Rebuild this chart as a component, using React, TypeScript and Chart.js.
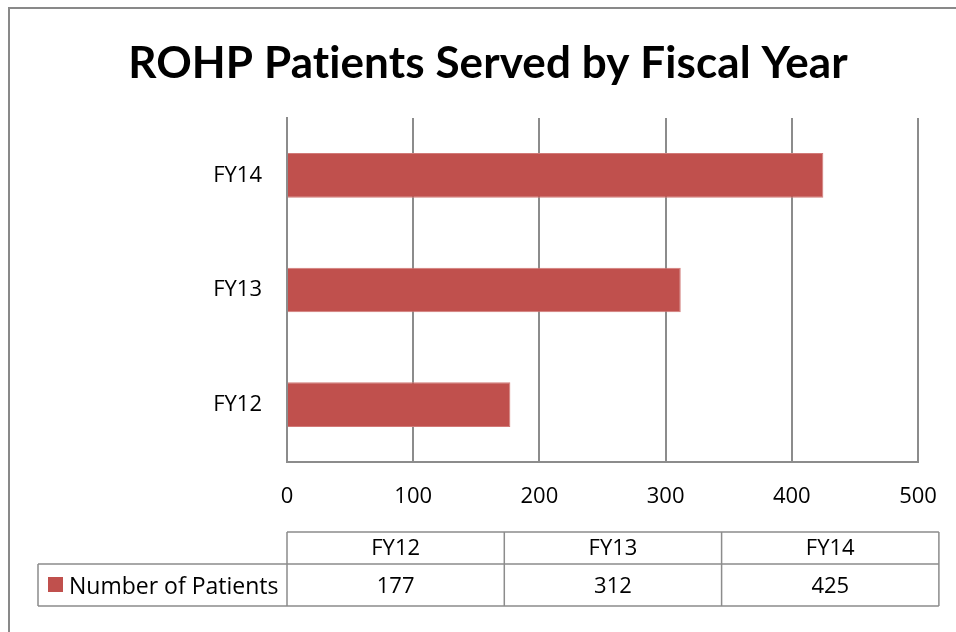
import React, { useEffect, useRef } from 'react';
import { Chart, registerables } from 'chart.js';

Chart.register(...registerables);

const TITLE = 'ROHP Patients Served by Fiscal Year';
const CATEGORIES = ['FY12', 'FY13', 'FY14'];
const SERIES_NAME = 'Number of Patients';
const PATIENTS = [177, 312, 425];
const X_MIN = 0;
const X_MAX = 500;
const X_STEP = 100;

const TITLE_FONT = 'Lato, "Open Sans", sans-serif';
const FONT = '"Open Sans", Lato, sans-serif';
const BAR = '#C0504D';
const GRID = '#8C8C8C';
const W = 956;
const H = 632;

const framePlugin = {
  id: 'frameTitleTable',
  beforeDraw(chart: any) {
    const ctx = chart.ctx;
    ctx.save();
    ctx.fillStyle = '#ffffff';
    ctx.fillRect(0, 0, W, H);
    ctx.fillStyle = '#898989';
    ctx.fillRect(8, 7, 2, H - 7);
    ctx.fillRect(8, 7, W - 8, 2);
    ctx.fillStyle = '#000000';
    ctx.font = `bold 44px ${TITLE_FONT}`;
    try { (ctx as any).letterSpacing = '0.1px'; } catch (e) {}
    ctx.textAlign = 'center';
    ctx.textBaseline = 'alphabetic';
    ctx.fillText(TITLE, 488, 78);
    ctx.restore();
  },
  afterDraw(chart: any) {
    const ctx = chart.ctx;
    const labels: string[] = chart.data.labels;
    const ds = chart.data.datasets[0];
    const values: number[] = ds.data;
    const left = chart.chartArea.left;
    const colW = 217.3;
    const right = left + colW * labels.length;
    const r0 = 532;
    const r1 = 564;
    const r2 = 606;
    const legLeft = 38;
    ctx.save();
    ctx.strokeStyle = GRID;
    ctx.lineWidth = 1.5;
    ctx.beginPath();
    ctx.moveTo(left, r0); ctx.lineTo(right, r0);
    ctx.moveTo(legLeft, r1); ctx.lineTo(right, r1);
    ctx.moveTo(legLeft, r2); ctx.lineTo(right, r2);
    ctx.moveTo(legLeft, r1); ctx.lineTo(legLeft, r2);
    for (let i = 0; i <= labels.length; i++) {
      const x = left + colW * i;
      ctx.moveTo(x, r0); ctx.lineTo(x, r2);
    }
    ctx.stroke();
    ctx.fillStyle = '#000000';
    ctx.font = `22px ${FONT}`;
    ctx.textAlign = 'center';
    ctx.textBaseline = 'middle';
    for (let i = 0; i < labels.length; i++) {
      const cx = left + colW * (i + 0.5);
      ctx.fillText(labels[i], cx, (r0 + r1) / 2 + 1);
      ctx.fillText(String(values[i]), cx, (r1 + r2) / 2 + 2);
    }
    ctx.fillStyle = ds.backgroundColor;
    ctx.fillRect(48, 577, 15, 15);
    ctx.fillStyle = '#000000';
    ctx.textAlign = 'left';
    ctx.font = `23px ${FONT}`;
    ctx.fillText(ds.label, 69, (r1 + r2) / 2 + 2);
    ctx.restore();
  },
};

export default function App() {
  const ref = useRef<HTMLCanvasElement | null>(null);

  useEffect(() => {
    if (!ref.current) return;
    const chart = new Chart(ref.current, {
      type: 'bar',
      data: {
        labels: CATEGORIES,
        datasets: [
          {
            label: SERIES_NAME,
            data: PATIENTS,
            backgroundColor: BAR,
            borderColor: '#D27A78',
            borderWidth: 1,
            categoryPercentage: 1,
            barPercentage: 0.39,
          },
        ],
      },
      options: {
        indexAxis: 'y',
        responsive: false,
        animation: false,
        layout: { padding: { top: 118, left: 0, right: 38, bottom: 120 } },
        plugins: {
          legend: { display: false },
          title: { display: false },
          tooltip: { enabled: false },
        },
        scales: {
          x: {
            min: X_MIN,
            max: X_MAX,
            ticks: {
              stepSize: X_STEP,
              color: '#000000',
              font: { family: FONT, size: 22 },
              padding: 22,
            },
            grid: { color: GRID, lineWidth: 2, drawTicks: false },
            border: { display: true, color: GRID, width: 2 },
            afterFit: (s: any) => {
              s.height = 50;
              s.paddingRight = 0;
              s.paddingLeft = 0;
            },
          },
          y: {
            reverse: true,
            ticks: {
              color: '#000000',
              font: { family: FONT, size: 22 },
              padding: 25,
            },
            grid: { display: false, drawTicks: false },
            border: { display: true, color: GRID, width: 2 },
            afterFit: (s: any) => { s.width = 287; },
          },
        },
      },
      plugins: [framePlugin],
    });
    return () => chart.destroy();
  }, []);

  return (
    <div style={{ position: 'absolute', left: 0, top: 0, width: W, height: H, background: '#fff' }}>
      <canvas ref={ref} width={W} height={H} style={{ display: 'block', width: W, height: H }} />
    </div>
  );
}
